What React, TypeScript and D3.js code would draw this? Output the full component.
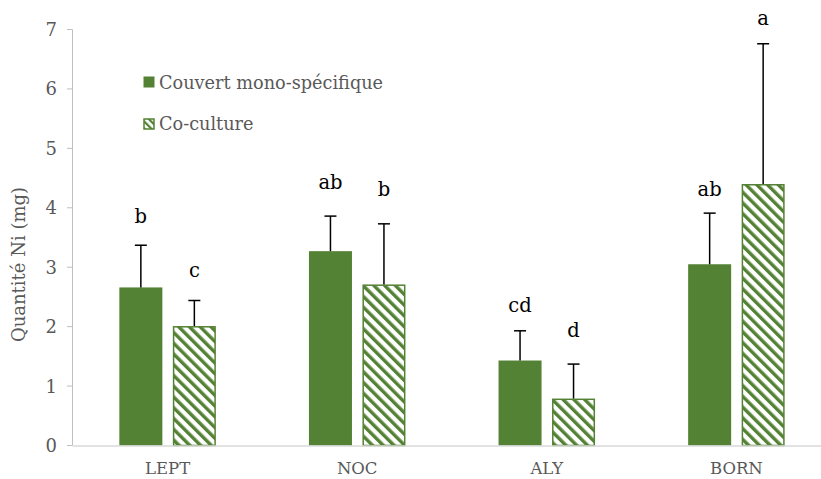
import React from "react";
import * as d3 from "d3";

const categories = ["LEPT", "NOC", "ALY", "BORN"];
const seriesNames = ["Couvert mono-spécifique", "Co-culture"];
const monoValues = [2.66, 3.27, 1.43, 3.05];
const monoErrors = [0.71, 0.59, 0.5, 0.86];
const coValues = [2.01, 2.71, 0.79, 4.4];
const coErrors = [0.43, 1.02, 0.58, 2.36];
const monoLetters = ["b", "ab", "cd", "ab"];
const coLetters = ["c", "b", "d", "a"];
const monoLetterAt = [3.74, 4.31, 2.25, 4.19];
const coLetterAt = [2.84, 4.19, 1.83, 7.08];
const yTicks = [0, 1, 2, 3, 4, 5, 6, 7];
const yTitle = "Quantité Ni (mg)";

const W = 821;
const H = 479;
const GREEN = "#548235";
const GREY = "#595959";
const FONT = "'DejaVu Serif', serif";

export default function App() {
  const y = d3.scaleLinear().domain([0, 7]).range([445.5, 29.5]);
  const x = d3.scaleBand().domain(categories).range([72.8, 831.2]).paddingInner(0).paddingOuter(0);
  const inner = d3
    .scaleBand()
    .domain(["mono", "co"])
    .range([0, x.bandwidth()])
    .paddingInner(0.196)
    .paddingOuter(0.87);

  const series = [
    { key: "mono", values: monoValues, errors: monoErrors, letters: monoLetters, letterAt: monoLetterAt },
    { key: "co", values: coValues, errors: coErrors, letters: coLetters, letterAt: coLetterAt },
  ];
  const bw = inner.bandwidth();

  return (
    <svg width={W} height={H} style={{ display: "block", position: "absolute", left: 0, top: 0 }}>
      <defs>
        <pattern id="hatch" patternUnits="userSpaceOnUse" width={7.6} height={7.6} patternTransform="rotate(-45)">
          <rect x={0} y={0} width={7.6} height={7.6} fill="#ffffff" />
          <rect x={0} y={0} width={3.4} height={7.6} fill={GREEN} />
        </pattern>
        <pattern id="hatchLegend" patternUnits="userSpaceOnUse" width={5} height={5} patternTransform="rotate(-45)">
          <rect x={0} y={0} width={5} height={5} fill="#ffffff" />
          <rect x={0} y={0} width={2.2} height={5} fill={GREEN} />
        </pattern>
      </defs>
      <rect width={W} height={H} fill="#ffffff" />

      {/* y axis */}
      <line x1={72.5} x2={72.5} y1={y(7)} y2={y(0)} stroke="#bfbfbf" strokeWidth={1} />
      {yTicks.map((t) => (
        <g key={t}>
          <line x1={67} x2={72.5} y1={y(t)} y2={y(t)} stroke="#bfbfbf" strokeWidth={1} />
          <text x={57} y={y(t)} dy="0.36em" textAnchor="end" fontFamily={FONT} fontSize={18} fill={GREY}>
            {t}
          </text>
        </g>
      ))}
      <text
        transform={`translate(25,${(y(0) + y(7)) / 2 + 27}) rotate(-90)`}
        textAnchor="middle"
        fontFamily={FONT}
        fontSize={18}
        fill={GREY}
      >
        {yTitle}
      </text>

      {/* bars */}
      {categories.map((c, i) =>
        series.map((s) => {
          const bx = (x(c) as number) + (inner(s.key) as number);
          const top = y(s.values[i]);
          const ey = y(s.values[i] + s.errors[i]);
          const cx = bx + bw / 2;
          return (
            <g key={c + s.key}>
              {s.key === "mono" ? (
                <rect x={bx} y={top} width={bw} height={y(0) - top} fill={GREEN} />
              ) : (
                <rect x={bx + 0.75} y={top + 0.75} width={bw - 1.5} height={y(0) - top - 0.75} fill="url(#hatch)" stroke={GREEN} strokeWidth={1.5} />
              )}
              <line x1={cx} x2={cx} y1={top} y2={ey} stroke="#000" strokeWidth={1.5} />
              <line x1={cx - 6} x2={cx + 6} y1={ey} y2={ey} stroke="#000" strokeWidth={1.5} />
              <text x={cx} y={y(s.letterAt[i])} textAnchor="middle" fontFamily={FONT} fontSize={19.5} fill="#000">
                {s.letters[i]}
              </text>
            </g>
          );
        })
      )}

      {/* x axis */}
      <line x1={72.5} x2={W} y1={y(0) + 0.5} y2={y(0) + 0.5} stroke="#d9d9d9" strokeWidth={1.5} />
      {categories.map((c) => (
        <text key={c} x={(x(c) as number) + x.bandwidth() / 2} y={474} textAnchor="middle" fontFamily={FONT} fontSize={16.5} fill={GREY}>
          {c}
        </text>
      ))}

      {/* legend */}
      <rect x={143.5} y={76.5} width={11} height={11} fill={GREEN} />
      <text x={159} y={89} fontFamily={FONT} fontSize={17.7} fill={GREY}>
        {seriesNames[0]}
      </text>
      <rect x={144} y={119} width={10} height={10} fill="url(#hatchLegend)" stroke={GREEN} strokeWidth={1.5} />
      <text x={159} y={130} fontFamily={FONT} fontSize={17.7} fill={GREY}>
        {seriesNames[1]}
      </text>
    </svg>
  );
}
